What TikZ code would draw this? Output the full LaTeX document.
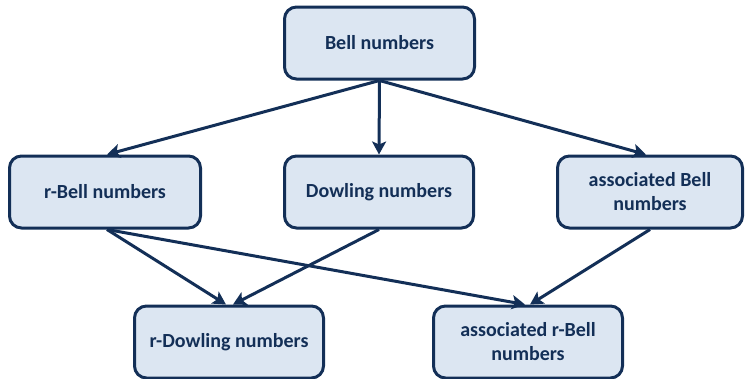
\documentclass[tikz,border=0pt]{standalone}
\usepackage{fontspec}
\setmainfont{Carlito}
\usetikzlibrary{arrows.meta}
\definecolor{navy}{HTML}{132F57}
\definecolor{boxfill}{HTML}{DCE6F2}
\begin{document}
\begin{tikzpicture}[x=1pt,y=-1pt,
  box/.style={draw=navy, line width=3pt, fill=boxfill, rounded corners=12pt,
    minimum width=#1, minimum height=72pt, inner sep=0pt, align=center,
    text=navy, font=\fontsize{20}{24}\selectfont\bfseries},
  box/.default=190pt,
  link/.style={draw=navy, line width=3pt, -{Stealth[length=13pt,width=14pt,inset=3pt]}}]
\useasboundingbox (0,0) rectangle (746,378);
\node[box=190pt] (bell) at (379.5,43) {Bell numbers};
\node[box=191pt] (rbell) at (105,192) {r-Bell numbers};
\node[box=189pt] (dow) at (379,192) {Dowling numbers};
\node[box=185pt] (abell) at (650,192) {associated Bell\\numbers};
\node[box=189pt] (rdow) at (229,342) {r-Dowling numbers};
\node[box=189pt] (arbell) at (528,342) {associated r-Bell\\numbers};
\draw[link] (bell.south) -- ([xshift=2pt]rbell.north);
\draw[link] (bell.south) -- (dow.north);
\draw[link] (bell.south) -- ([xshift=-4pt]abell.north);
\draw[link] ([xshift=2pt]rbell.south) -- ([xshift=-3pt]rdow.north);
\draw[link] ([xshift=2pt]rbell.south) -- ([xshift=-3pt]arbell.north);
\draw[link] (dow.south) -- ([xshift=4pt]rdow.north);
\draw[link] (abell.south) -- ([xshift=2pt]arbell.north);
\end{tikzpicture}
\end{document}
